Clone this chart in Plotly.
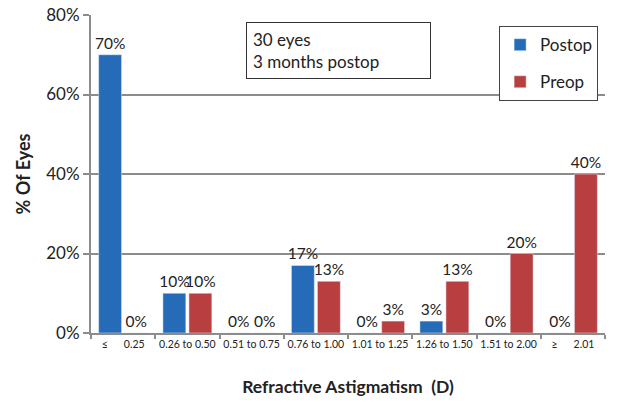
import plotly.graph_objects as go

categories = ["≤ 0.25", "0.26 to 0.50", "0.51 to 0.75", "0.76 to 1.00",
              "1.01 to 1.25", "1.26 to 1.50", "1.51 to 2.00", "≥ 2.01"]
tick_labels = ["≤      0.25", "0.26 to 0.50", "0.51 to 0.75", "0.76 to 1.00",
               "1.01 to 1.25", "1.26 to 1.50", "1.51 to 2.00", "≥      2.01"]
postop = [70, 10, 0, 17, 0, 3, 0, 0]
preop = [0, 10, 0, 13, 3, 13, 20, 40]
y_ticks = [0, 20, 40, 60, 80]
y_tick_labels = ["0%", "20%", "40%", "60%", "80%"]

BLUE = "#256bb7"
RED = "#b83e40"
GRID = "#8c8c8c"
FONT = "Lato, 'Open Sans', sans-serif"

fig = go.Figure()
fig.add_trace(go.Bar(
    x=categories, y=postop, name="Postop", marker_color=BLUE,
    text=[f"{v}%" for v in postop], textposition="outside", constraintext="none",
    textfont=dict(size=15.5, color="#222"), cliponaxis=False, legendgroup="a"))
fig.add_trace(go.Bar(
    x=categories, y=preop, name="Preop", marker_color=RED,
    text=[f"{v}%" for v in preop], textposition="outside", constraintext="none",
    textfont=dict(size=15.5, color="#222"), cliponaxis=False, legendgroup="b"))

fig.update_layout(
    width=617, height=402,
    margin=dict(l=91, r=12, t=15, b=69),
    paper_bgcolor="white", plot_bgcolor="white",
    font=dict(family=FONT, color="#222"),
    barmode="group", bargap=0.19, bargroupgap=0.12,
    showlegend=True,
    legend=dict(x=0.794, y=0.965, xanchor="left", yanchor="top",
                bordercolor="#444", borderwidth=1, bgcolor="white",
                font=dict(size=17), tracegroupgap=12,
                itemwidth=30),
    annotations=[dict(
        xref="paper", yref="paper", x=0.302, y=0.978,
        xanchor="left", yanchor="top", align="left",
        text="30 eyes<br>3 months postop", showarrow=False,
        font=dict(size=17, color="#222"),
        bordercolor="#333", borderwidth=1, borderpad=6,
        width=171, bgcolor="white")],
)
fig.update_xaxes(
    tickmode="array", tickvals=categories, ticktext=tick_labels, tickangle=0,
    tickson="boundaries", ticks="outside", ticklen=4, tickcolor=GRID, tickwidth=2,
    tickfont=dict(size=10.5, color="#222"), automargin=False,
    showline=True, linecolor=GRID, linewidth=2,
    title=dict(text="<b>Refractive Astigmatism  (D)</b>", font=dict(size=17.5), standoff=32),
)
fig.update_yaxes(
    range=[0, 80], tickmode="array", tickvals=y_ticks, ticktext=y_tick_labels,
    ticklabeloverflow="allow", automargin=False,
    ticks="outside", ticklen=6, tickcolor=GRID, tickwidth=2,
    tickfont=dict(size=17, color="#222"),
    showline=True, linecolor=GRID, linewidth=2,
    showgrid=True, gridcolor=GRID, gridwidth=2,
    zeroline=False,
    title=dict(text="<b>% Of Eyes</b>", font=dict(size=18), standoff=11),
)

fig.write_html("out.html", config={"displayModeBar": False},
               post_script="document.body.style.margin='0';")
